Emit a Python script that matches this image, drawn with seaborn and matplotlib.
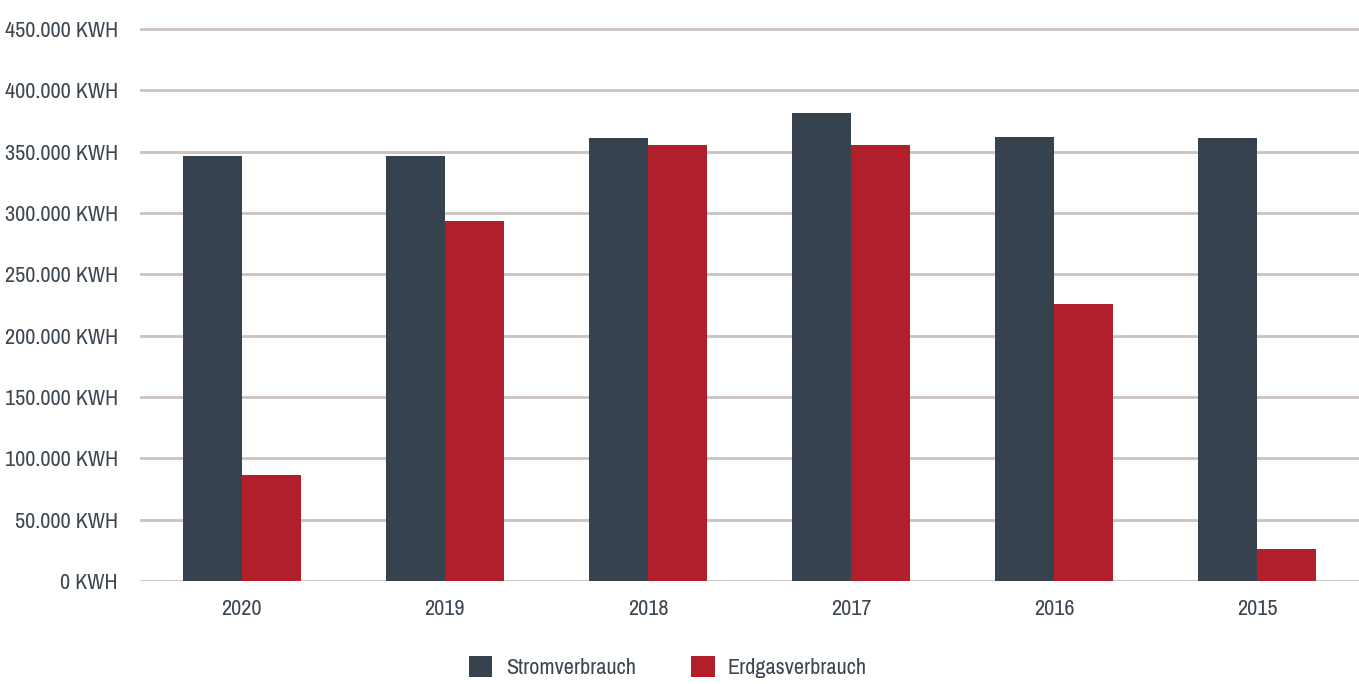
"""Energy consumption per year: electricity vs natural gas."""

import matplotlib
import pandas as pd
import seaborn as sns

matplotlib.use("Agg")
import matplotlib.pyplot as plt
from matplotlib import font_manager
from matplotlib.ticker import FuncFormatter

YEARS = ["2020", "2019", "2018", "2017", "2016", "2015"]
STROM = [346500, 346500, 361000, 381500, 362000, 361000]
ERDGAS = [86500, 293500, 355500, 355500, 226000, 26000]
SERIES = ["Stromverbrauch", "Erdgasverbrauch"]
Y_TICKS = list(range(0, 450001, 50000))

DARK = "#36424e"
RED = "#b01f2a"
GRID = "#cbc2bd"
TEXT = "#3d4752"


def pick_font() -> tuple[str, str, str, float]:
    """Prefer a narrow face, otherwise a light Roboto."""
    fonts = font_manager.fontManager.ttflist
    for f in fonts:
        if "Narrow" in f.name or "Condensed" in f.name:
            return f.name, "normal", "normal", 16
    for f in fonts:
        if f.name == "DejaVu Sans" and str(f.stretch) in ("condensed", "semi-condensed"):
            return f.name, "normal", "condensed", 14
    light = [f for f in fonts if f.name == "Roboto" and f.weight in (300, "light")]
    if light:
        return "Roboto", "light", "normal", 13.5
    return "Roboto", "normal", "normal", 13


family, weight, stretch, size = pick_font()

data = pd.DataFrame(
    {
        "Jahr": YEARS * 2,
        "Verbrauch": STROM + ERDGAS,
        "Art": [SERIES[0]] * len(YEARS) + [SERIES[1]] * len(YEARS),
    }
)

sns.set_theme(style="white")
plt.rcParams["font.family"] = [family, "DejaVu Sans"]
plt.rcParams["font.weight"] = weight
plt.rcParams["font.stretch"] = stretch

fig = plt.figure(figsize=(13.59, 6.84), dpi=100)
ax = fig.add_axes([140 / 1359, 1 - 581 / 684, 1 - 140 / 1359, 558.1 / 684])

sns.barplot(
    data=data,
    x="Jahr",
    y="Verbrauch",
    hue="Art",
    order=YEARS,
    hue_order=SERIES,
    palette=[DARK, RED],
    width=0.58,
    saturation=1,
    linewidth=0,
    ax=ax,
    zorder=3,
)

ax.set_xlim(-0.5, len(YEARS) - 0.5)
ax.set_ylim(0, 455000)
ax.set_yticks(Y_TICKS)
ax.yaxis.set_major_formatter(
    FuncFormatter(lambda v, _: f"{int(v):,} KWH".replace(",", "."))
)
ax.grid(axis="y", color=GRID, linewidth=2, zorder=0)
ax.set_axisbelow(True)
for spine in ax.spines.values():
    spine.set_visible(False)

ax.set_xlabel("")
ax.set_ylabel("")
ax.tick_params(axis="y", length=0, pad=16, labelsize=size, labelcolor=TEXT)
ax.tick_params(axis="x", length=0, pad=13, labelsize=size, labelcolor=TEXT)

handles, labels = ax.get_legend_handles_labels()
ax.get_legend().remove()
fig.legend(
    handles,
    labels,
    loc="center",
    bbox_to_anchor=(668 / 1359, 1 - 667 / 684),
    ncol=2,
    frameon=False,
    fontsize=size,
    labelcolor=TEXT,
    handlelength=1.05,
    handleheight=1.05,
    handletextpad=0.6,
    columnspacing=2.5,
)

fig.savefig("out.png", dpi=100)
